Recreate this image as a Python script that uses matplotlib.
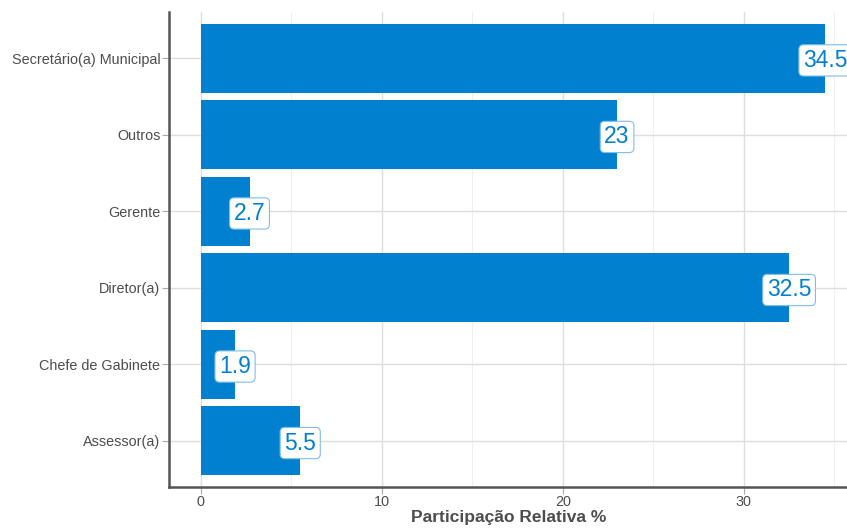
import matplotlib.pyplot as plt
from matplotlib.ticker import MultipleLocator

plt.rcParams['font.family'] = ['Liberation Sans', 'DejaVu Sans']

cargos = ["Assessor(a)", "Chefe de Gabinete", "Diretor(a)", "Gerente", "Outros", "Secretário(a) Municipal"]
participacao = [5.5, 1.9, 32.5, 2.7, 23, 34.5]
rotulos = ["5.5", "1.9", "32.5", "2.7", "23", "34.5"]

azul = "#0080CF"
cinza = "#4D4D4D"

fig, ax = plt.subplots(figsize=(8.47, 5.29), dpi=100)
fig.subplots_adjust(left=0.2, right=1.0, top=0.977, bottom=0.08)

pos = range(1, len(cargos) + 1)
ax.barh(pos, participacao, height=0.9, color=azul, zorder=2)

for y, v, t in zip(pos, participacao, rotulos):
    ax.text(v, y - 0.03, t, ha="center", va="center", fontsize=16.5, color=azul, zorder=3,
            bbox=dict(boxstyle="round,pad=0.18,rounding_size=0.2", fc="white", ec="#7EBDE8", lw=0.8))

ax.set_yticks(list(pos))
ax.set_yticklabels(cargos)
ax.set_xlim(-1.725, 35.7)
ax.set_ylim(0.4, 6.6)
ax.xaxis.set_major_locator(MultipleLocator(10))
ax.xaxis.set_minor_locator(MultipleLocator(5))

ax.grid(which="major", color="#DEDEDE", lw=1.0, zorder=0)
ax.grid(which="minor", axis="x", color="#F0F0F0", lw=0.8, zorder=0)
ax.set_axisbelow(True)

for s in ["top", "right"]:
    ax.spines[s].set_visible(False)
for s in ["left", "bottom"]:
    ax.spines[s].set_color("#555555")
    ax.spines[s].set_linewidth(1.8)

ax.tick_params(axis="both", colors="#AAAAAA", labelcolor=cinza, labelsize=10.4, length=5, width=0.8)
ax.tick_params(axis="x", pad=1)
ax.tick_params(axis="y", pad=1.5)
ax.tick_params(which="minor", length=0)
ax.set_xlabel("Participação Relativa %", fontsize=12.5, fontweight="bold", color=cinza, labelpad=1)

fig.savefig("out.png")
